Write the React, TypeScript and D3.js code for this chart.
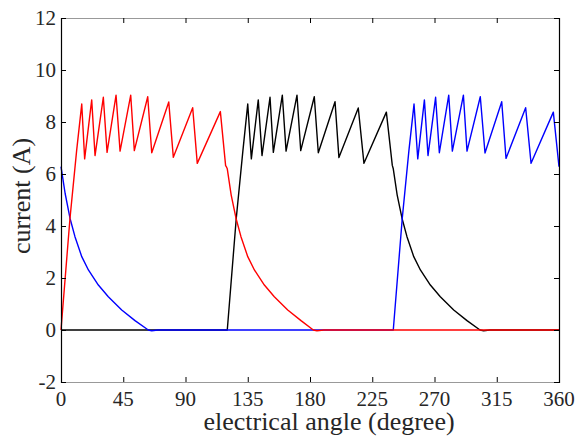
import React from "react";
import * as d3 from "d3";

const xTicks = [0, 45, 90, 135, 180, 225, 270, 315, 360];
const yTicks = [-2, 0, 2, 4, 6, 8, 10, 12];

// phase A (red): [angle, current]
const phaseRed: [number, number][] = [
  [0, 0], [6.5, 4.3], [11.3, 6.9], [15.0, 8.69], [17.1, 6.58], [22.2, 8.85], [24.6, 6.71],
  [30.6, 8.95], [33.3, 6.83], [39.8, 9.03], [42.7, 6.88], [50.4, 9.03], [53.0, 6.9],
  [62.7, 8.97], [65.6, 6.82], [77.9, 8.77], [81.2, 6.64], [95.2, 8.55], [98.5, 6.41],
  [115.2, 8.4], [119.0, 6.32], [119.7, 6.26], [120.2, 6.2], [123, 5.2], [126.5, 4.3],
  [130.1, 3.59], [135, 2.82], [139.8, 2.31], [147, 1.73], [154.2, 1.28], [163.9, 0.77],
  [173.5, 0.36], [182.4, 0], [185, -0.03], [190, 0], [360, 0],
];

// phase B (black)
const phaseBlack: [number, number][] = [
  [0, 0], [120.2, 0], [126.7, 4.3], [131.5, 6.9], [135.0, 8.69], [137.6, 6.58],
  [142.6, 8.85], [145.3, 6.71], [151.1, 8.95], [153.5, 6.83], [160.0, 9.03], [162.7, 6.88],
  [170.6, 9.03], [173.3, 6.9], [183.1, 8.97], [186.0, 6.82], [198.1, 8.78], [200.9, 6.63],
  [214.9, 8.54], [219.0, 6.41], [235.2, 8.38], [239.5, 6.33], [240.2, 6.2], [243, 5.2],
  [246.5, 4.3], [250.1, 3.59], [255, 2.82], [259.8, 2.31], [267, 1.73], [274.2, 1.28],
  [283.9, 0.77], [293.5, 0.36], [302.9, 0], [305.5, -0.03], [310, 0], [360, 0],
];

// phase C (blue)
const phaseBlue: [number, number][] = [
  [0, 6.28], [3, 5.25], [6.5, 4.3], [10.1, 3.59], [15, 2.82], [19.8, 2.31], [27, 1.73],
  [34.2, 1.28], [43.9, 0.77], [53.5, 0.36], [63.1, 0], [65.6, -0.03], [70, 0], [240.2, 0],
  [246.7, 4.3], [251.5, 6.9], [255.2, 8.69], [257.9, 6.58], [262.7, 8.85], [265.3, 6.71],
  [270.8, 8.95], [273.5, 6.82], [280.3, 9.03], [282.9, 6.88], [290.9, 9.03], [293.5, 6.88],
  [303.1, 8.97], [306.5, 6.81], [318.6, 8.78], [321.7, 6.6], [335.9, 8.55], [339.8, 6.41],
  [355.9, 8.38], [360, 6.28],
];

const series = [
  { data: phaseBlack, color: "#000000" },
  { data: phaseBlue, color: "#0000ff" },
  { data: phaseRed, color: "#ff0000" },
];

export default function App() {
  const W = 581, H = 439;
  const left = 61, right = 559, top = 18, bottom = 382;
  const x = d3.scaleLinear().domain([0, 360]).range([left, right]);
  const y = d3.scaleLinear().domain([-2, 12]).range([bottom, top]);
  const line = d3.line<[number, number]>().x((d) => x(d[0])).y((d) => y(d[1]));
  const fontStyle = { fontFamily: '"Liberation Serif", "Times New Roman", Times, serif' };
  const tc = "#262626";
  const tl = 5;
  return (
    <svg width={W} height={H} style={{ position: "absolute", left: 0, top: 0, background: "#fff" }}>
      <rect x={0} y={0} width={W} height={H} fill="#fff" />
      {series.map((s, i) => (
        <path key={i} d={line(s.data) || ""} fill="none" stroke={s.color} strokeWidth={1.4} strokeLinejoin="round" />
      ))}
      {/* box */}
      <line x1={left} x2={right} y1={top + 0.5} y2={top + 0.5} stroke="#999" strokeWidth={1} />
      <line x1={left} x2={right} y1={bottom + 0.5} y2={bottom + 0.5} stroke="#999" strokeWidth={1} />
      <line x1={left + 0.5} x2={left + 0.5} y1={top} y2={bottom + 1} stroke="#000" strokeWidth={1.2} />
      <line x1={right + 0.5} x2={right + 0.5} y1={top} y2={bottom + 1} stroke="#000" strokeWidth={1.2} />
      {xTicks.map((t) => (
        <g key={"x" + t}>
          <line x1={x(t) + 0.5} x2={x(t) + 0.5} y1={bottom} y2={bottom - tl} stroke="#000" />
          <line x1={x(t) + 0.5} x2={x(t) + 0.5} y1={top} y2={top + tl} stroke="#000" />
          <text x={x(t)} y={406} textAnchor="middle" style={fontStyle} fontSize={21} fill={tc}>
            {t}
          </text>
        </g>
      ))}
      {yTicks.map((t) => (
        <g key={"y" + t}>
          <line x1={left} x2={left + tl} y1={y(t) + 0.5} y2={y(t) + 0.5} stroke="#000" />
          <line x1={right} x2={right - tl} y1={y(t) + 0.5} y2={y(t) + 0.5} stroke="#000" />
          <text x={56} y={y(t) + 7} textAnchor="end" style={fontStyle} fontSize={21} fill={tc}>
            {t}
          </text>
        </g>
      ))}
      <text x={329} y={430} textAnchor="middle" style={fontStyle} fontSize={26} fill={tc}>
        electrical angle (degree)
      </text>
      <text
        transform={`translate(30, 196) rotate(-90)`}
        textAnchor="middle"
        style={fontStyle}
        fontSize={26}
        fill={tc}
      >
        current (A)
      </text>
    </svg>
  );
}
